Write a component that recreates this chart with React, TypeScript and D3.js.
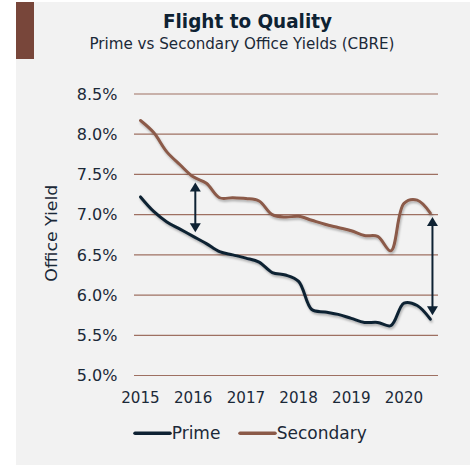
import React from "react";
import * as d3 from "d3";

const title = "Flight to Quality";
const subtitle = "Prime vs Secondary Office Yields (CBRE)";
const yAxisTitle = "Office Yield";

// quarterly observations, 2015 Q1 .. 2020 Q3
const quarters = [
  2015.0, 2015.25, 2015.5, 2015.75, 2016.0, 2016.25, 2016.5, 2016.75,
  2017.0, 2017.25, 2017.5, 2017.75, 2018.0, 2018.25, 2018.5, 2018.75,
  2019.0, 2019.25, 2019.5, 2019.75, 2020.0, 2020.25, 2020.5,
];
const prime = [
  7.22, 7.04, 6.91, 6.82, 6.73, 6.64, 6.54, 6.5, 6.46, 6.41, 6.28, 6.25,
  6.17, 5.82, 5.79, 5.76, 5.71, 5.66, 5.66, 5.62, 5.9, 5.87, 5.7,
];
const secondary = [
  8.17, 8.02, 7.78, 7.62, 7.47, 7.39, 7.21, 7.21, 7.2, 7.17, 7.0, 6.97,
  6.98, 6.93, 6.88, 6.84, 6.8, 6.74, 6.73, 6.55, 7.14, 7.18, 7.02,
];
const yTicks = [5.0, 5.5, 6.0, 6.5, 7.0, 7.5, 8.0, 8.5];
const xTicks = [2015, 2016, 2017, 2018, 2019, 2020];
const seriesNames = ["Prime", "Secondary"];
// spread arrows: [year, top value, bottom value]
const arrows = [
  [2016.04, 7.4, 6.78],
  [2020.54, 6.97, 5.75],
];

const PRIME_COLOR = "#0e2233";
const SEC_COLOR = "#8b5a48";
const GRID_COLOR = "#9e7062";
const TEXT_COLOR = "#1b2938";
const FONT = "'DejaVu Sans', sans-serif";

export default function App() {
  const W = 476;
  const H = 472;
  const x = d3.scaleLinear().domain([2015, 2020]).range([140.5, 404]);
  const y = d3.scaleLinear().domain([5.0, 8.5]).range([375.5, 94]);
  const gridX0 = 134;
  const gridX1 = 438;

  const line = (vals: number[]) =>
    d3
      .line<number>()
      .x((_, i) => x(quarters[i]))
      .y((d) => y(d))
      .curve(d3.curveCatmullRom.alpha(0.5))(vals) as string;

  const arrowHead = (ax: number, ay: number, dir: number) => {
    const w = 5.5;
    const l = 9;
    return `M${ax},${ay} L${ax - w},${ay + dir * l} L${ax + w},${ay + dir * l} Z`;
  };

  return (
    <svg
      width={W}
      height={H}
      style={{ position: "absolute", left: 0, top: 0, background: "#ffffff" }}
    >
      <defs>
        <filter id="shadow" x="-10%" y="-10%" width="120%" height="130%">
          <feDropShadow dx="1" dy="2" stdDeviation="1.3" floodColor="#000" floodOpacity="0.28" />
        </filter>
      </defs>
      <rect x={16} y={2} width={454} height={463} fill="#f2f2f2" />
      <rect x={16} y={2} width={18} height={57} fill="#78463a" />

      <text
        x={247.5}
        y={27.5}
        textAnchor="middle"
        fontFamily={FONT}
        fontWeight={700}
        fontSize={19.5}
        textLength={169}
        lengthAdjust="spacingAndGlyphs"
        fill="#0e2233"
      >
        {title}
      </text>
      <text
        x={242}
        y={49.3}
        textAnchor="middle"
        fontFamily={FONT}
        fontSize={15}
        textLength={305}
        lengthAdjust="spacingAndGlyphs"
        fill={TEXT_COLOR}
      >
        {subtitle}
      </text>

      {yTicks.map((t) => (
        <g key={t}>
          <line x1={gridX0} x2={gridX1} y1={y(t)} y2={y(t)} stroke={GRID_COLOR} strokeWidth={1.2} />
          <text
            x={117.5}
            y={y(t)}
            dy="0.36em"
            textAnchor="end"
            fontFamily={FONT}
            fontSize={16}
            fill={TEXT_COLOR}
          >
            {t.toFixed(1) + "%"}
          </text>
        </g>
      ))}

      {xTicks.map((t) => (
        <text
          key={t}
          x={x(t)}
          y={402.7}
          textAnchor="middle"
          fontFamily={FONT}
          fontSize={16.5}
          textLength={38.5}
          lengthAdjust="spacingAndGlyphs"
          fill={TEXT_COLOR}
        >
          {t}
        </text>
      ))}

      <text
        transform={`translate(57.3,233.3) rotate(-90)`}
        textAnchor="middle"
        fontFamily={FONT}
        fontSize={16}
        textLength={97}
        lengthAdjust="spacingAndGlyphs"
        fill={TEXT_COLOR}
      >
        {yAxisTitle}
      </text>

      <g filter="url(#shadow)">
        <path d={line(secondary)} fill="none" stroke={SEC_COLOR} strokeWidth={3} strokeLinecap="round" strokeLinejoin="round" />
        <path d={line(prime)} fill="none" stroke={PRIME_COLOR} strokeWidth={3} strokeLinecap="round" strokeLinejoin="round" />
      </g>

      {arrows.map(([yr, top, bot], i) => {
        const ax = x(yr);
        const yt = y(top);
        const yb = y(bot);
        return (
          <g key={i}>
            <line x1={ax} x2={ax} y1={yt + 6} y2={yb - 6} stroke={PRIME_COLOR} strokeWidth={2} />
            <path d={arrowHead(ax, yt, 1)} fill={PRIME_COLOR} />
            <path d={arrowHead(ax, yb, -1)} fill={PRIME_COLOR} />
          </g>
        );
      })}

      <g>
        <line x1={135} x2={170} y1={433.3} y2={433.3} stroke={PRIME_COLOR} strokeWidth={3.5} strokeLinecap="round" />
        <text x={171.7} y={439.3} fontFamily={FONT} fontSize={17} fill={TEXT_COLOR}>
          {seriesNames[0]}
        </text>
        <line x1={240} x2={275} y1={433.3} y2={433.3} stroke={SEC_COLOR} strokeWidth={3.5} strokeLinecap="round" />
        <text x={276.7} y={439.3} fontFamily={FONT} fontSize={17} fill={TEXT_COLOR}>
          {seriesNames[1]}
        </text>
      </g>
    </svg>
  );
}
